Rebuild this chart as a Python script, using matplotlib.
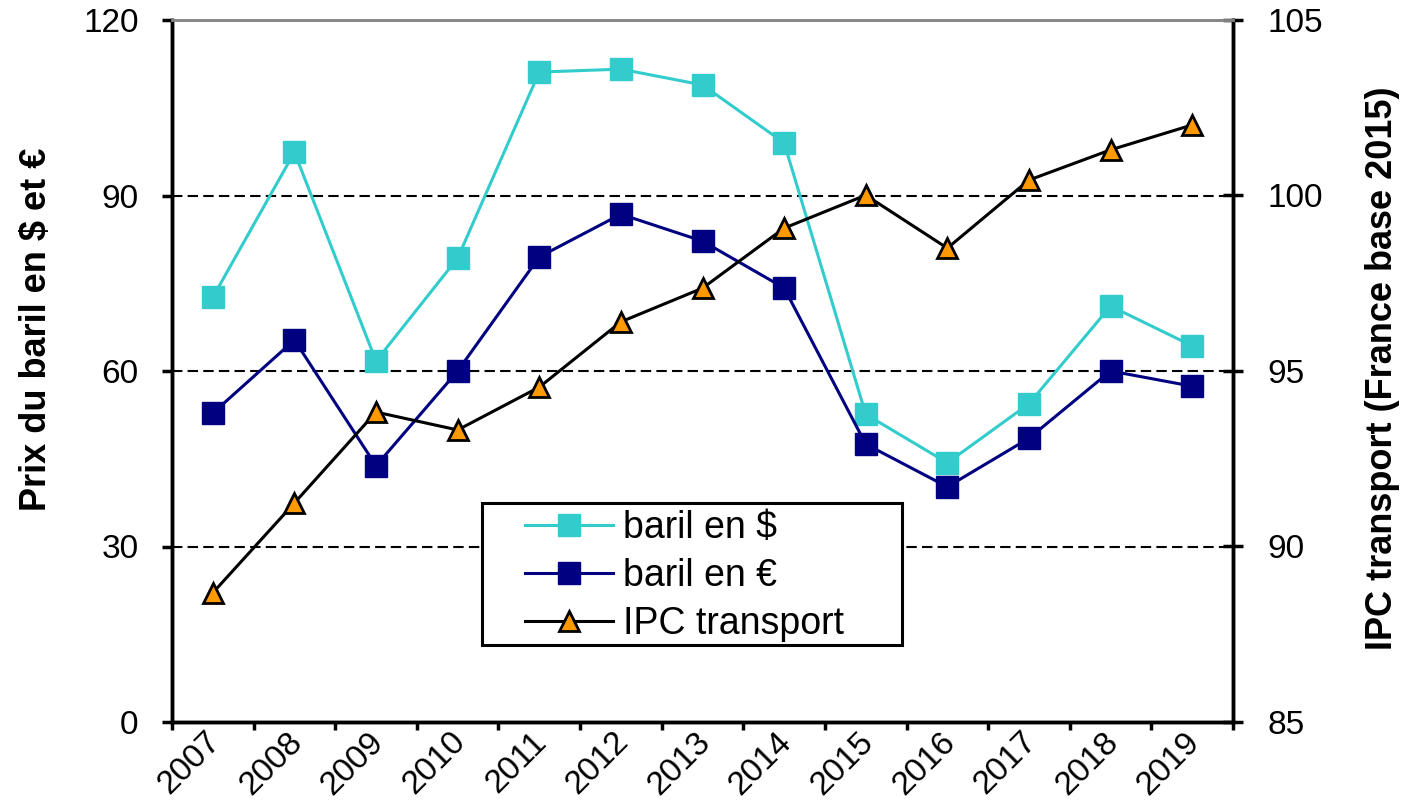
import numpy as np
import matplotlib
matplotlib.use('Agg')
import matplotlib.pyplot as plt
import matplotlib.transforms as mtransforms
from matplotlib.ticker import FixedLocator, NullFormatter
from matplotlib.patches import Rectangle

plt.rcParams['font.family'] = ['Liberation Sans', 'DejaVu Sans']

years = ['2007', '2008', '2009', '2010', '2011', '2012', '2013',
         '2014', '2015', '2016', '2017', '2018', '2019']
baril_usd = [72.6, 97.4, 61.7, 79.3, 111.1, 111.6, 108.9,
             99.0, 52.6, 44.3, 54.4, 71.1, 64.3]
baril_eur = [52.8, 65.3, 43.8, 60.0, 79.5, 86.8, 82.2,
             74.2, 47.5, 40.2, 48.5, 60.0, 57.4]
ipc_transport = [88.68, 91.24, 93.83, 93.32, 94.54, 96.40, 97.36,
                 99.07, 100.01, 98.50, 100.44, 101.30, 102.01]

W, H = 1415, 805
x = np.arange(len(years))

fig = plt.figure(figsize=(W/100, H/100), dpi=100)
# plot area in pixels: left 172, right 1233, top 20, bottom 722
ax = fig.add_axes([172/W, 1 - 722/H, (1233-172)/W, (722-20)/H])
ax2 = ax.twinx()

for g in [30, 60, 90]:
    ax.axhline(g, color='black', ls=(0, (5, 2.5)), lw=1.5, zorder=0)

l1, = ax.plot(x, baril_usd, color='#33CCCC', lw=2.2, marker='s', ms=16,
              mfc='#33CCCC', mec='#33CCCC', label='baril en $', zorder=3)
l2, = ax.plot(x, baril_eur, color='#000080', lw=2.2, marker='s', ms=16,
              mfc='#000080', mec='#000080', label='baril en €', zorder=3)
l3, = ax2.plot(x, ipc_transport, color='black', lw=2.2, marker='^', ms=15,
               mfc='#FF9900', mec='black', mew=2, label='IPC transport', zorder=3)

ax.set_xlim(-0.5, len(years) - 0.5)
ax.set_ylim(0, 120)
ax.set_yticks([0, 30, 60, 90, 120])
ax2.set_ylim(85, 105)
ax2.set_yticks([85, 90, 95, 100, 105])

# category labels at centres, tick marks between categories
ax.set_xticks(x)
ax.set_xticklabels(years, rotation=45, ha='right', rotation_mode='anchor')
ax.tick_params(axis='x', which='major', length=0, pad=3, labelsize=24)
ax.xaxis.set_minor_locator(FixedLocator(np.arange(-0.5, len(years), 1.0)))
ax.xaxis.set_minor_formatter(NullFormatter())
ax.tick_params(axis='x', which='minor', length=6, width=2.5, direction='out')
shift = mtransforms.ScaledTranslation(-8/100, 0, fig.dpi_scale_trans)
for lab in ax.get_xticklabels():
    lab.set_transform(lab.get_transform() + shift)

ax.tick_params(axis='y', length=7, width=2.5, direction='out', labelsize=24, pad=17)
ax2.tick_params(axis='y', length=15, width=2.5, direction='inout', labelsize=24, pad=17)

for a in (ax, ax2):
    for s in ('left', 'right', 'bottom'):
        a.spines[s].set_linewidth(2.5)
    a.spines['top'].set_color('#888888')
    a.spines['top'].set_linewidth(2)

fig.text(37/W, 1 - 329/H, 'Prix du baril en $ et €', fontsize=26,
         fontweight='bold', rotation=90, ha='center', va='center')
fig.text(1383/W, 1 - 368/H, 'IPC transport (France base 2015)', fontsize=26,
         fontweight='bold', rotation=90, ha='center', va='center')

# legend box drawn as a plain rectangle, entries placed inside
box = Rectangle((482/W, 1 - 645/H), (902-482)/W, (645-503)/H,
                transform=fig.transFigure, facecolor='white',
                edgecolor='black', lw=2.2, zorder=4)
ax2.add_artist(box)
leg = ax2.legend(handles=[l1, l2, l3], loc='upper left',
                 bbox_to_anchor=(525/W, 1 - 510/H),
                 bbox_transform=fig.transFigure,
                 fontsize=27, frameon=False, borderpad=0, borderaxespad=0,
                 handlelength=2.35, labelspacing=0.32, handletextpad=0.27)
leg.set_zorder(5)

fig.savefig('out.png', dpi=100)
